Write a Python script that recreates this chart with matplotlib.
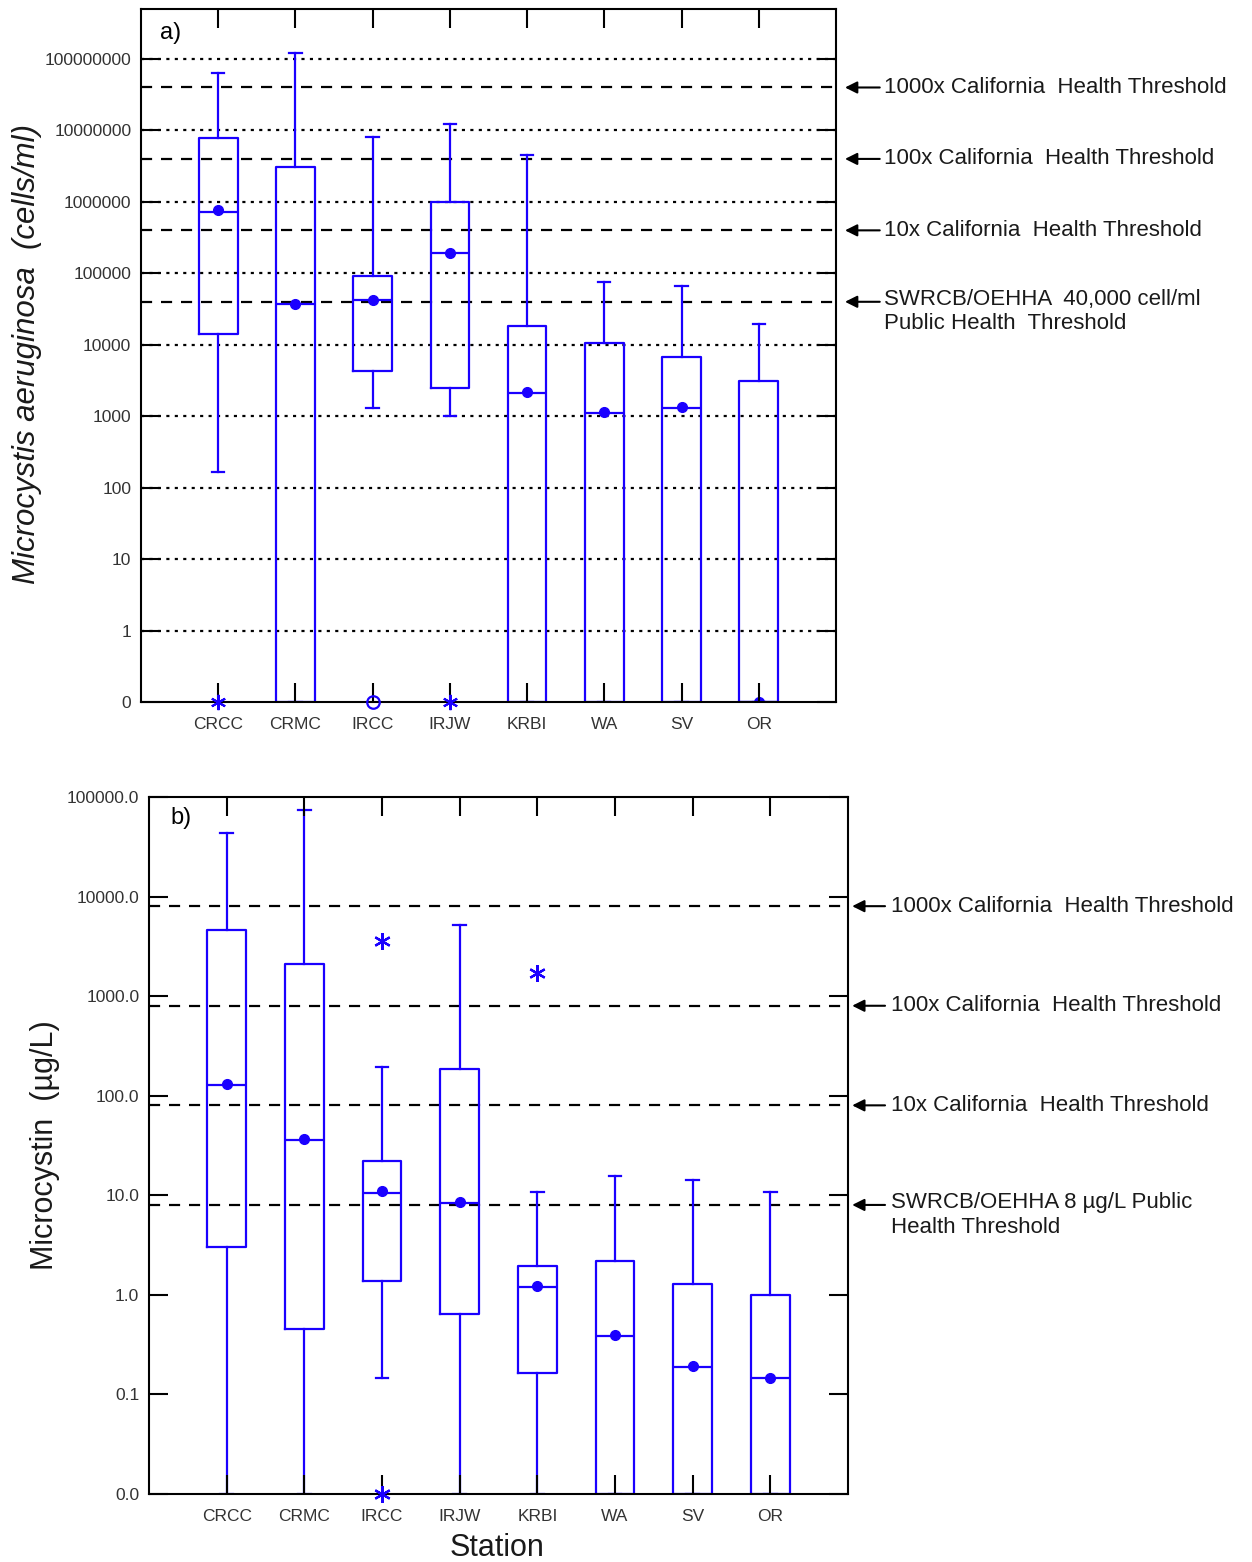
import numpy as np
import matplotlib
matplotlib.use('Agg')
import matplotlib.pyplot as plt

plt.rcParams['font.family'] = ['Liberation Sans', 'DejaVu Sans']

stations = ['CRCC', 'CRMC', 'IRCC', 'IRJW', 'KRBI', 'WA', 'SV', 'OR']

# panel a: Microcystis aeruginosa (cells/ml); 0 = below detection
cells_whishi = [6.3e7, 1.2e8, 8.1e6, 1.25e7, 4.6e6, 7.6e4, 6.7e4, 1.96e4]
cells_q3 = [7.9e6, 3.1e6, 9.3e4, 1.0e6, 1.85e4, 1.07e4, 6.8e3, 3.1e3]
cells_med = [7.2e5, 3.7e4, 4.2e4, 1.95e5, 2.1e3, 1.1e3, 1.3e3, 0]
cells_mean = [7.7e5, 3.7e4, 4.3e4, 1.95e5, 2.15e3, 1.15e3, 1.35e3, 0]
cells_q1 = [1.4e4, 0, 4.3e3, 2.5e3, 0, 0, 0, 0]
cells_whislo = [166, 0, 1.3e3, 1.0e3, 0, 0, 0, 0]
cells_star_station = ['CRCC', 'IRJW']
cells_star_value = [0, 0]
cells_circle_station = ['IRCC']
cells_circle_value = [0]
cells_thresholds = [4e7, 4e6, 4e5, 4e4]
cells_thr_labels = ['1000x California  Health Threshold',
                    '100x California  Health Threshold',
                    '10x California  Health Threshold',
                    'SWRCB/OEHHA  40,000 cell/ml\nPublic Health  Threshold']
cells_ticks = [0.1, 1, 10, 100, 1e3, 1e4, 1e5, 1e6, 1e7, 1e8]
cells_ticklabels = ['0', '1', '10', '100', '1000', '10000', '100000',
                    '1000000', '10000000', '100000000']

# panel b: Microcystin (ug/L)
mc_whishi = [4.3e4, 7.4e4, 194, 5.2e3, 10.8, 15.6, 14.2, 10.8]
mc_q3 = [4.6e3, 2.1e3, 22, 185, 1.95, 2.2, 1.28, 1.0]
mc_med = [128, 36, 10.6, 8.4, 1.2, 0.39, 0.19, 0.145]
mc_mean = [132, 37, 11, 8.6, 1.22, 0.40, 0.195, 0.148]
mc_q1 = [3.0, 0.45, 1.37, 0.65, 0.165, 0, 0, 0]
mc_whislo = [0, 0, 0.145, 0, 0, 0, 0, 0]
mc_star_station = ['IRCC', 'IRCC', 'KRBI']
mc_star_value = [3.6e3, 0, 1.7e3]
mc_thresholds = [8000, 800, 80, 8]
mc_thr_labels = ['1000x California  Health Threshold',
                 '100x California  Health Threshold',
                 '10x California  Health Threshold',
                 'SWRCB/OEHHA 8 µg/L Public\nHealth Threshold']
mc_ticks = [0.01, 0.1, 1, 10, 100, 1e3, 1e4, 1e5]
mc_ticklabels = ['0.0', '0.1', '1.0', '10.0', '100.0', '1000.0', '10000.0', '100000.0']

blue = '#1a00ff'
pos = np.arange(1, len(stations) + 1)


def floor0(vals, fl):
    return [v if v > 0 else fl for v in vals]


def draw_panel(ax, whishi, q3, med, mean, q1, whislo, fl, top):
    stats = []
    for i in range(len(stations)):
        stats.append(dict(med=floor0(med, fl)[i], q1=floor0(q1, fl)[i],
                          q3=q3[i], whislo=floor0(whislo, fl)[i],
                          whishi=whishi[i], mean=floor0(mean, fl)[i], fliers=[]))
    lp = dict(color=blue, lw=1.6)
    ax.bxp(stats, positions=pos, widths=0.5, capwidths=0.16, showmeans=True,
           showfliers=False, manage_ticks=False,
           boxprops=lp, whiskerprops=lp, capprops=lp, medianprops=lp,
           meanprops=dict(marker='o', markerfacecolor=blue, markeredgecolor=blue,
                          markersize=7))
    ax.set_yscale('log')
    ax.set_ylim(fl, top)
    ax.set_xlim(0, 9)
    ax.set_xticks(pos)
    ax.set_xticklabels(stations)
    ax.yaxis.set_minor_locator(matplotlib.ticker.NullLocator())
    ax.tick_params(axis='both', direction='in', length=14, width=1.5,
                   top=True, right=True, labelsize=12.5, colors='black',
                   labelcolor='#333333')
    ax.tick_params(axis='y', pad=7)
    ax.tick_params(axis='x', pad=11)
    ax.set_axisbelow(False)
    for s in ax.spines.values():
        s.set_linewidth(1.5)


def thresholds(ax, vals, labels, x_head, x_tail, x_text):
    tr = ax.get_yaxis_transform()
    for v, lab in zip(vals, labels):
        ax.axhline(v, color='black', lw=1.6, ls=(0, (5, 4)), zorder=1)
        ax.annotate('', xy=(x_head, v), xytext=(x_tail, v), xycoords=tr,
                    textcoords=tr, annotation_clip=False,
                    arrowprops=dict(arrowstyle='-|>', color='black', lw=1.5,
                                    mutation_scale=18, shrinkA=0, shrinkB=0))
        if '\n' in lab:
            ax.annotate(lab, xy=(x_text, v), xycoords=tr, xytext=(0, 9),
                        textcoords='offset points', ha='left', va='top',
                        fontsize=16, color='#1a1a1a', annotation_clip=False,
                        linespacing=1.2)
        else:
            ax.annotate(lab, xy=(x_text, v), xycoords=tr, ha='left',
                        va='center', fontsize=16, color='#1a1a1a',
                        annotation_clip=False)


fig = plt.figure(figsize=(12.52, 15.62), dpi=100)
ax1 = fig.add_axes([0.1126, 0.5506, 0.5551, 0.4436])
ax2 = fig.add_axes([0.1190, 0.0435, 0.5583, 0.4463])

# panel a
draw_panel(ax1, cells_whishi, cells_q3, cells_med, cells_mean, cells_q1,
           cells_whislo, 0.1, 10 ** 8.7)
for t in cells_ticks[1:]:
    ax1.axhline(t, color='black', lw=1.6, ls=(0, (1.4, 2.4)), zorder=1)
ax1.set_yticks(cells_ticks)
ax1.set_yticklabels(cells_ticklabels)
ax1.plot([pos[stations.index(s)] for s in cells_star_station],
         floor0(cells_star_value, 0.1), ls='none', marker=(6, 2, 0),
         color=blue, markersize=11, mew=1.5, clip_on=False, zorder=3)
ax1.plot([pos[stations.index(s)] for s in cells_circle_station],
         floor0(cells_circle_value, 0.1), ls='none', marker='o',
         markerfacecolor='none', markeredgecolor=blue, markersize=9, mew=1.6,
         clip_on=False, zorder=3)
thresholds(ax1, cells_thresholds, cells_thr_labels, 1.013, 1.063, 1.069)
ax1.text(0.027, 0.965, 'a)', transform=ax1.transAxes, fontsize=17,
         ha='left', va='center')

# panel b
draw_panel(ax2, mc_whishi, mc_q3, mc_med, mc_mean, mc_q1, mc_whislo,
           0.01, 1e5)
ax2.set_yticks(mc_ticks)
ax2.set_yticklabels(mc_ticklabels)
ax2.plot([pos[stations.index(s)] for s in mc_star_station],
         floor0(mc_star_value, 0.01), ls='none', marker=(6, 2, 0),
         color=blue, markersize=12, mew=1.6, clip_on=False, zorder=3)
thresholds(ax2, mc_thresholds, mc_thr_labels, 1.006, 1.053, 1.062)
ax2.text(0.03, 0.97, 'b)', transform=ax2.transAxes, fontsize=17,
         ha='left', va='center')

fig.text(27 / 1252, 0.7734, 'Microcystis aeruginosa  (cells/ml)',
         rotation=90, style='italic', fontsize=22.5, ha='center', va='center',
         color='#1a1a1a')
fig.text(45 / 1252, 0.267, 'Microcystin  (µg/L)', rotation=90, fontsize=22,
         ha='center', va='center', color='#1a1a1a')
fig.text(497 / 1252, 0.009, 'Station', fontsize=22, ha='center',
         va='center', color='#1a1a1a')

fig.savefig('out.png', dpi=100)
